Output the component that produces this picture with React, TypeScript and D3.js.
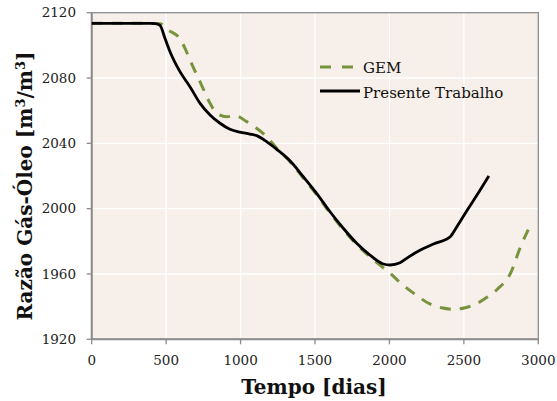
import React from "react";
import * as d3 from "d3";

const gemDays = [0, 300, 459, 515, 593, 627, 660, 728, 795, 840, 907, 963, 1041, 1108, 1175, 1243, 1332, 1421, 1511, 1601, 1690, 1780, 1869, 1959, 2006, 2080, 2163, 2275, 2350, 2432, 2510, 2589, 2660, 2723, 2813, 2880, 2947];
const gemValues = [2113.5, 2113.5, 2113.3, 2109.4, 2104, 2098.2, 2091, 2077.7, 2064.5, 2058.4, 2056.3, 2056.9, 2053.3, 2049.2, 2044.1, 2037, 2028.8, 2018.8, 2008.6, 1997.3, 1987.2, 1978, 1970.6, 1963.8, 1960.4, 1954, 1948.2, 1941.5, 1939.3, 1938.4, 1939.3, 1942, 1946, 1950.5, 1960.4, 1976.5, 1990];

const ptDays = [0, 392, 430, 459, 492, 526, 593, 660, 728, 795, 862, 929, 996, 1063, 1108, 1175, 1243, 1332, 1421, 1511, 1601, 1690, 1780, 1869, 1959, 2004, 2071, 2130, 2208, 2300, 2410, 2450, 2522, 2600, 2668];
const ptValues = [2113.5, 2113.5, 2113.3, 2112.3, 2104.3, 2096.1, 2083.9, 2074.7, 2064.5, 2057.4, 2052.3, 2048.6, 2046.8, 2045.7, 2044.7, 2041, 2036.3, 2029.3, 2019.6, 2009.4, 1998.1, 1988, 1978.8, 1971.6, 1966.1, 1965.5, 1966.9, 1970.5, 1974.7, 1978.5, 1983, 1988.5, 1999, 2010, 2020];

const xTicks = [0, 500, 1000, 1500, 2000, 2500, 3000];
const yTicks = [1920, 1960, 2000, 2040, 2080, 2120];
const seriesNames = ["GEM", "Presente Trabalho"];

const W = 557;
const H = 401;
const margin = { left: 91.7, right: 557 - 538.3, top: 12.7, bottom: 401 - 339.3 };
const FONT = "'DejaVu Serif', serif";

export default function App() {
  const x = d3.scaleLinear().domain([0, 3000]).range([margin.left, W - margin.right]);
  const y = d3.scaleLinear().domain([1920, 2120]).range([H - margin.bottom, margin.top]);
  const mk = (xs: number[], ys: number[]) =>
    d3
      .line<number>()
      .x((d) => x(d))
      .y((_, i) => y(ys[i]))
      .curve(d3.curveMonotoneX)(xs) as string;
  const gemPath = mk(gemDays, gemValues);
  const ptPath = mk(ptDays, ptValues);
  const x0 = x(0), x1 = x(3000), y0 = y(1920), y1 = y(2120);
  const green = "#77933C";
  return (
    <svg width={W} height={H} style={{ position: "absolute", left: 0, top: 0, display: "block", background: "#fff" }}>
      <rect x={x0} y={y1} width={x1 - x0} height={y0 - y1} fill="#F7EFE9" />
      {xTicks.map((t) => (
        <line key={"gx" + t} x1={x(t)} x2={x(t)} y1={y1} y2={y0} stroke="#fff" strokeWidth={1.3} />
      ))}
      {yTicks.map((t) => (
        <line key={"gy" + t} x1={x0} x2={x1} y1={y(t)} y2={y(t)} stroke="#fff" strokeWidth={1.3} />
      ))}
      <rect x={x0} y={y1} width={x1 - x0} height={y0 - y1} fill="none" stroke="#8c8c8c" strokeWidth={1.3} />
      <line x1={x0} x2={x0} y1={y1} y2={y0} stroke="#8c8c8c" strokeWidth={2} />
      <line x1={x0} x2={x1} y1={y0} y2={y0} stroke="#8c8c8c" strokeWidth={2} />
      {xTicks.map((t) => (
        <g key={"tx" + t}>
          <line x1={x(t)} x2={x(t)} y1={y0} y2={y0 + 5} stroke="#8c8c8c" strokeWidth={1.3} />
          <text x={x(t)} y={365} textAnchor="middle" fontFamily={FONT} fontSize={13.5} fill="#222">
            {t}
          </text>
        </g>
      ))}
      {yTicks.map((t) => (
        <g key={"ty" + t}>
          <line x1={x0 - 5} x2={x0} y1={y(t)} y2={y(t)} stroke="#8c8c8c" strokeWidth={1.3} />
          <text x={76} y={y(t)} dy="0.35em" textAnchor="end" fontFamily={FONT} fontSize={13.5} fill="#222">
            {t}
          </text>
        </g>
      ))}
      <path d={gemPath} fill="none" stroke={green} strokeWidth={3} strokeDasharray="11 9" />
      <path d={ptPath} fill="none" stroke="#000" strokeWidth={2.8} />
      <line x1={320} x2={358} y1={67} y2={67} stroke={green} strokeWidth={3} strokeDasharray="11 11" />
      <line x1={320} x2={360} y1={91} y2={91} stroke="#000" strokeWidth={2.8} />
      <text x={363} y={72.5} fontFamily={FONT} fontSize={15} fill="#111">{seriesNames[0]}</text>
      <text x={363} y={97.5} fontFamily={FONT} fontSize={15} fill="#111">{seriesNames[1]}</text>
      <text x={(245 + 383) / 2} y={394} textAnchor="middle" fontFamily={FONT} fontWeight="bold" fontSize={20} fill="#111">
        Tempo [dias]
      </text>
      <text
        transform={`translate(32,186) rotate(-90)`}
        textAnchor="middle"
        fontFamily={FONT}
        fontWeight="bold"
        fontSize={20}
        fill="#111"
      >
        Razão Gás-Óleo [m<tspan dy={-7} fontSize={13}>3</tspan><tspan dy={7}>/m</tspan><tspan dy={-7} fontSize={13}>3</tspan><tspan dy={7}>]</tspan>
      </text>
    </svg>
  );
}
